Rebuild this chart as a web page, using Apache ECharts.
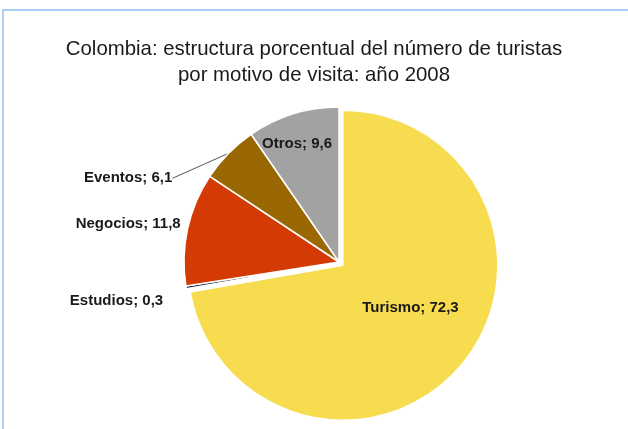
<!DOCTYPE html>
<html>
<head>
<meta charset="utf-8">
<script src="https://cdn.jsdelivr.net/npm/echarts@6/dist/echarts.min.js"></script>
<style>
  html, body { margin: 0; padding: 0; background: #fff; }
  #frame { position: absolute; left: 2px; top: 9px; width: 700px; height: 500px;
           border-top: 2px solid #a9cff5; border-left: 2px solid #a9cff5; }
  #chart { position: absolute; left: 0; top: 0; width: 628px; height: 429px; }
</style>
</head>
<body>
<div id="frame"></div>
<div id="chart"></div>
<script>
const titleLines = ['Colombia: estructura porcentual del número de turistas', 'por motivo de visita: año 2008'];
const categories = ['Turismo', 'Estudios', 'Negocios', 'Eventos', 'Otros'];
const values = [72.3, 0.3, 11.8, 6.1, 9.6];
const colors = ['#F8DC50', '#20203a', '#D43A04', '#9A6802', '#A2A2A2'];

// label placement style per category
const labelPos = { Turismo: 'inside', Estudios: 'outside', Negocios: 'outside', Eventos: 'outside', Otros: 'inside' };
const labelShift = { Turismo: [6, -9], Otros: [-18, -41], Negocios: [3, -4], Estudios: [-13, 13], Eventos: [-44, 32] };

const fmt = v => String(v).replace('.', ',');

const chart = echarts.init(document.getElementById('chart'), null, { renderer: 'canvas' });
chart.setOption({
  backgroundColor: 'transparent',
  animation: false,
  title: {
    text: titleLines.join('\n'),
    left: 'center',
    top: 31,
    textStyle: { fontFamily: 'Liberation Sans, Arial', fontSize: 20.4, fontWeight: 'normal', color: '#1a1a1a', lineHeight: 26 }
  },
  series: [{
    type: 'pie',
    center: [339, 262],
    radius: 155,
    startAngle: 90,
    clockwise: true,
    avoidLabelOverlap: false,
    selectedMode: 'single',
    selectedOffset: 5,
    itemStyle: { borderColor: '#fff', borderWidth: 1.5 },
    emphasis: { disabled: true },
    label: {
      fontFamily: 'Liberation Sans, Arial',
      fontWeight: 'bold',
      fontSize: 15,
      color: '#1a1a1a',
      formatter: p => p.name + '; ' + fmt(p.value)
    },
    labelLine: { show: false, length: 5, length2: 0 },
    labelLayout: p => {
      const name = categories[p.dataIndex];
      const s = labelShift[name] || [0, 0];
      if (name === 'Eventos') {
        // move via x/y so the guide line is re-routed to the label
        return {
          x: p.labelRect.x + p.labelRect.width + s[0],
          y: p.labelRect.y + p.labelRect.height / 2 + s[1],
          align: 'right',
          verticalAlign: 'middle'
        };
      }
      return { dx: s[0], dy: s[1] };
    },
    data: categories.map((c, i) => ({
      name: c,
      value: values[i],
      selected: c === 'Turismo',
      itemStyle: { color: colors[i] },
      label: { position: labelPos[c] },
      labelLine: c === 'Eventos'
        ? { show: true, length: 10, length2: 0, lineStyle: { color: '#555', width: 1 } }
        : { show: false }
    }))
  }]
});
</script>
</body>
</html>
